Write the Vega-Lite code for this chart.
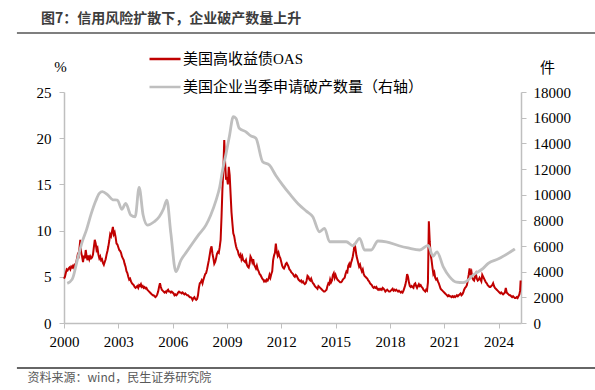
{
"$schema":"https://vega.github.io/schema/vega-lite/v6.json",
"width":457,"height":231,
"autosize":{"type":"none"},
"padding":{"left":64,"top":92,"right":74,"bottom":67},
"background":"white",
"title":{"text":"图7：信用风险扩散下，企业破产数量上升","anchor":"start","frame":"group","font":"Noto Sans CJK SC","fontSize":14,"fontWeight":"bold","color":"#3c3c3c","dx":-23,"offset":6},
"config":{"view":{"stroke":null},"axis":{"labelFont":"Liberation Serif","labelFontSize":15,"labelColor":"#000","domainColor":"#bfbfbf","tickColor":"#bfbfbf","grid":false,"domainWidth":1.5,"tickWidth":1,"tickSize":5}},
"datasets":{
"oas":[
{"t":2000.00,"v":4.8},{"t":2000.05,"v":5.0},{"t":2000.10,"v":5.4},{"t":2000.15,"v":5.8},{"t":2000.20,"v":5.7},{"t":2000.25,"v":5.9},{"t":2000.30,"v":6.0},{"t":2000.35,"v":5.8},{"t":2000.40,"v":6.1},{"t":2000.45,"v":6.0},{"t":2000.50,"v":6.2},{"t":2000.55,"v":6.0},{"t":2000.60,"v":6.3},{"t":2000.65,"v":6.2},{"t":2000.70,"v":6.8},{"t":2000.75,"v":7.3},{"t":2000.80,"v":7.0},{"t":2000.85,"v":8.0},{"t":2000.90,"v":9.0},{"t":2000.95,"v":7.6},
{"t":2001.00,"v":7.2},{"t":2001.05,"v":6.6},{"t":2001.10,"v":7.3},{"t":2001.15,"v":7.0},{"t":2001.20,"v":7.9},{"t":2001.25,"v":7.2},{"t":2001.30,"v":6.8},{"t":2001.35,"v":7.3},{"t":2001.40,"v":6.9},{"t":2001.45,"v":7.2},{"t":2001.50,"v":7.0},{"t":2001.55,"v":7.1},{"t":2001.60,"v":7.4},{"t":2001.65,"v":8.2},{"t":2001.70,"v":9.0},{"t":2001.75,"v":8.6},{"t":2001.80,"v":7.9},{"t":2001.85,"v":8.1},{"t":2001.90,"v":7.4},{"t":2001.95,"v":7.0},
{"t":2002.00,"v":7.2},{"t":2002.05,"v":6.8},{"t":2002.10,"v":6.9},{"t":2002.15,"v":6.5},{"t":2002.20,"v":6.3},{"t":2002.25,"v":6.6},{"t":2002.30,"v":6.9},{"t":2002.35,"v":7.4},{"t":2002.40,"v":7.8},{"t":2002.45,"v":8.3},{"t":2002.50,"v":8.9},{"t":2002.55,"v":9.6},{"t":2002.60,"v":9.4},{"t":2002.65,"v":9.9},{"t":2002.70,"v":10.4},{"t":2002.75,"v":9.6},{"t":2002.80,"v":9.8},{"t":2002.85,"v":9.3},{"t":2002.90,"v":8.6},{"t":2002.95,"v":8.5},
{"t":2003.00,"v":8.2},{"t":2003.05,"v":7.9},{"t":2003.10,"v":7.8},{"t":2003.15,"v":7.6},{"t":2003.20,"v":7.2},{"t":2003.25,"v":7.0},{"t":2003.30,"v":6.8},{"t":2003.35,"v":6.4},{"t":2003.40,"v":6.1},{"t":2003.45,"v":5.6},{"t":2003.50,"v":5.4},{"t":2003.55,"v":5.0},{"t":2003.60,"v":4.7},{"t":2003.65,"v":4.8},{"t":2003.70,"v":4.5},{"t":2003.75,"v":4.3},{"t":2003.80,"v":4.2},{"t":2003.85,"v":4.1},{"t":2003.90,"v":3.9},{"t":2003.95,"v":3.8},
{"t":2004.00,"v":3.9},{"t":2004.05,"v":4.0},{"t":2004.10,"v":3.8},{"t":2004.15,"v":4.1},{"t":2004.20,"v":4.0},{"t":2004.25,"v":4.2},{"t":2004.30,"v":3.9},{"t":2004.35,"v":4.0},{"t":2004.40,"v":3.8},{"t":2004.45,"v":3.9},{"t":2004.50,"v":3.75},{"t":2004.55,"v":3.8},{"t":2004.60,"v":3.6},{"t":2004.65,"v":3.5},{"t":2004.70,"v":3.4},{"t":2004.75,"v":3.3},{"t":2004.80,"v":3.2},{"t":2004.85,"v":3.1},{"t":2004.90,"v":3.0},{"t":2004.95,"v":3.0},
{"t":2005.00,"v":2.9},{"t":2005.05,"v":2.8},{"t":2005.10,"v":2.9},{"t":2005.15,"v":3.1},{"t":2005.20,"v":3.4},{"t":2005.25,"v":3.9},{"t":2005.30,"v":4.3},{"t":2005.35,"v":3.9},{"t":2005.40,"v":3.6},{"t":2005.45,"v":3.5},{"t":2005.50,"v":3.4},{"t":2005.55,"v":3.3},{"t":2005.60,"v":3.4},{"t":2005.65,"v":3.3},{"t":2005.70,"v":3.5},{"t":2005.75,"v":3.6},{"t":2005.80,"v":3.4},{"t":2005.85,"v":3.4},{"t":2005.90,"v":3.3},{"t":2005.95,"v":3.4},
{"t":2006.00,"v":3.3},{"t":2006.05,"v":3.2},{"t":2006.10,"v":3.0},{"t":2006.15,"v":3.1},{"t":2006.20,"v":3.0},{"t":2006.25,"v":3.1},{"t":2006.30,"v":3.3},{"t":2006.35,"v":3.4},{"t":2006.40,"v":3.3},{"t":2006.45,"v":3.3},{"t":2006.50,"v":3.2},{"t":2006.55,"v":3.3},{"t":2006.60,"v":3.2},{"t":2006.65,"v":3.1},{"t":2006.70,"v":3.2},{"t":2006.75,"v":3.1},{"t":2006.80,"v":3.0},{"t":2006.85,"v":3.0},{"t":2006.90,"v":2.9},{"t":2006.95,"v":2.8},
{"t":2007.00,"v":2.8},{"t":2007.05,"v":2.7},{"t":2007.10,"v":2.5},{"t":2007.15,"v":2.7},{"t":2007.20,"v":2.8},{"t":2007.25,"v":2.6},{"t":2007.30,"v":2.5},{"t":2007.35,"v":2.6},{"t":2007.40,"v":3.0},{"t":2007.45,"v":3.8},{"t":2007.50,"v":4.3},{"t":2007.55,"v":4.4},{"t":2007.60,"v":4.6},{"t":2007.65,"v":4.3},{"t":2007.70,"v":4.7},{"t":2007.75,"v":5.0},{"t":2007.80,"v":5.3},{"t":2007.85,"v":5.4},{"t":2007.90,"v":5.8},{"t":2007.95,"v":6.3},
{"t":2008.00,"v":6.8},{"t":2008.05,"v":7.4},{"t":2008.10,"v":8.0},{"t":2008.15,"v":8.3},{"t":2008.20,"v":7.5},{"t":2008.25,"v":7.0},{"t":2008.30,"v":6.4},{"t":2008.35,"v":6.6},{"t":2008.40,"v":7.0},{"t":2008.45,"v":7.5},{"t":2008.50,"v":7.7},{"t":2008.55,"v":7.6},{"t":2008.60,"v":8.2},{"t":2008.65,"v":9.0},{"t":2008.70,"v":11.5},{"t":2008.75,"v":14.5},{"t":2008.80,"v":16.5},{"t":2008.85,"v":19.8},{"t":2008.90,"v":17.3},{"t":2008.95,"v":15.5},
{"t":2009.00,"v":15.8},{"t":2009.05,"v":15.0},{"t":2009.10,"v":16.9},{"t":2009.15,"v":16.0},{"t":2009.20,"v":14.0},{"t":2009.25,"v":12.0},{"t":2009.30,"v":10.8},{"t":2009.35,"v":9.7},{"t":2009.40,"v":9.4},{"t":2009.45,"v":8.8},{"t":2009.50,"v":8.3},{"t":2009.55,"v":8.0},{"t":2009.60,"v":7.8},{"t":2009.65,"v":7.4},{"t":2009.70,"v":7.2},{"t":2009.75,"v":7.4},{"t":2009.80,"v":6.9},{"t":2009.85,"v":7.2},{"t":2009.90,"v":6.8},{"t":2009.95,"v":6.7},
{"t":2010.00,"v":6.6},{"t":2010.05,"v":6.8},{"t":2010.10,"v":6.3},{"t":2010.15,"v":6.1},{"t":2010.20,"v":6.0},{"t":2010.25,"v":6.4},{"t":2010.30,"v":7.2},{"t":2010.35,"v":7.0},{"t":2010.40,"v":6.6},{"t":2010.45,"v":6.9},{"t":2010.50,"v":6.3},{"t":2010.55,"v":6.1},{"t":2010.60,"v":5.9},{"t":2010.65,"v":6.2},{"t":2010.70,"v":5.8},{"t":2010.75,"v":5.6},{"t":2010.80,"v":5.3},{"t":2010.85,"v":5.2},{"t":2010.90,"v":5.0},{"t":2010.95,"v":4.8},
{"t":2011.00,"v":4.7},{"t":2011.05,"v":4.5},{"t":2011.10,"v":4.6},{"t":2011.15,"v":4.5},{"t":2011.20,"v":4.7},{"t":2011.25,"v":4.6},{"t":2011.30,"v":4.8},{"t":2011.35,"v":5.2},{"t":2011.40,"v":4.9},{"t":2011.45,"v":5.3},{"t":2011.50,"v":5.6},{"t":2011.55,"v":6.8},{"t":2011.60,"v":7.3},{"t":2011.65,"v":7.6},{"t":2011.70,"v":8.6},{"t":2011.75,"v":7.7},{"t":2011.80,"v":7.3},{"t":2011.85,"v":7.6},{"t":2011.90,"v":7.2},{"t":2011.95,"v":7.0},
{"t":2012.00,"v":6.6},{"t":2012.05,"v":6.2},{"t":2012.10,"v":6.0},{"t":2012.15,"v":5.9},{"t":2012.20,"v":6.1},{"t":2012.25,"v":6.4},{"t":2012.30,"v":6.5},{"t":2012.35,"v":6.3},{"t":2012.40,"v":6.1},{"t":2012.45,"v":5.8},{"t":2012.50,"v":5.7},{"t":2012.55,"v":5.5},{"t":2012.60,"v":5.4},{"t":2012.65,"v":5.3},{"t":2012.70,"v":5.1},{"t":2012.75,"v":5.0},{"t":2012.80,"v":5.2},{"t":2012.85,"v":5.1},{"t":2012.90,"v":4.9},{"t":2012.95,"v":4.7},
{"t":2013.00,"v":4.6},{"t":2013.05,"v":4.5},{"t":2013.10,"v":4.6},{"t":2013.15,"v":4.4},{"t":2013.20,"v":4.5},{"t":2013.25,"v":4.3},{"t":2013.30,"v":4.2},{"t":2013.35,"v":4.3},{"t":2013.40,"v":4.6},{"t":2013.45,"v":5.1},{"t":2013.50,"v":5.0},{"t":2013.55,"v":4.7},{"t":2013.60,"v":4.6},{"t":2013.65,"v":4.8},{"t":2013.70,"v":4.5},{"t":2013.75,"v":4.3},{"t":2013.80,"v":4.2},{"t":2013.85,"v":4.0},{"t":2013.90,"v":3.9},{"t":2013.95,"v":3.8},
{"t":2014.00,"v":3.7},{"t":2014.05,"v":4.0},{"t":2014.10,"v":3.9},{"t":2014.15,"v":3.8},{"t":2014.20,"v":3.7},{"t":2014.25,"v":3.6},{"t":2014.30,"v":3.5},{"t":2014.35,"v":3.4},{"t":2014.40,"v":3.4},{"t":2014.45,"v":3.5},{"t":2014.50,"v":3.6},{"t":2014.55,"v":4.0},{"t":2014.60,"v":4.3},{"t":2014.65,"v":4.2},{"t":2014.70,"v":4.7},{"t":2014.75,"v":4.4},{"t":2014.80,"v":4.6},{"t":2014.85,"v":5.2},{"t":2014.90,"v":5.4},{"t":2014.95,"v":4.9},
{"t":2015.00,"v":5.2},{"t":2015.05,"v":4.9},{"t":2015.10,"v":4.7},{"t":2015.15,"v":4.6},{"t":2015.20,"v":4.5},{"t":2015.25,"v":4.4},{"t":2015.30,"v":4.4},{"t":2015.35,"v":4.5},{"t":2015.40,"v":4.7},{"t":2015.45,"v":4.8},{"t":2015.50,"v":4.9},{"t":2015.55,"v":5.3},{"t":2015.60,"v":5.6},{"t":2015.65,"v":5.5},{"t":2015.70,"v":6.2},{"t":2015.75,"v":6.4},{"t":2015.80,"v":6.0},{"t":2015.85,"v":6.5},{"t":2015.90,"v":6.8},{"t":2015.95,"v":7.2},
{"t":2016.00,"v":7.8},{"t":2016.05,"v":8.6},{"t":2016.10,"v":8.0},{"t":2016.15,"v":7.3},{"t":2016.20,"v":6.9},{"t":2016.25,"v":6.5},{"t":2016.30,"v":6.1},{"t":2016.35,"v":6.3},{"t":2016.40,"v":5.9},{"t":2016.45,"v":5.6},{"t":2016.50,"v":5.8},{"t":2016.55,"v":5.3},{"t":2016.60,"v":5.1},{"t":2016.65,"v":5.0},{"t":2016.70,"v":4.9},{"t":2016.75,"v":4.8},{"t":2016.80,"v":4.6},{"t":2016.85,"v":4.5},{"t":2016.90,"v":4.3},{"t":2016.95,"v":4.2},
{"t":2017.00,"v":4.1},{"t":2017.05,"v":3.9},{"t":2017.10,"v":3.8},{"t":2017.15,"v":3.9},{"t":2017.20,"v":3.8},{"t":2017.25,"v":3.9},{"t":2017.30,"v":3.7},{"t":2017.35,"v":3.6},{"t":2017.40,"v":3.7},{"t":2017.45,"v":3.6},{"t":2017.50,"v":3.7},{"t":2017.55,"v":3.6},{"t":2017.60,"v":3.8},{"t":2017.65,"v":3.7},{"t":2017.70,"v":3.6},{"t":2017.75,"v":3.4},{"t":2017.80,"v":3.5},{"t":2017.85,"v":3.6},{"t":2017.90,"v":3.5},{"t":2017.95,"v":3.4},
{"t":2018.00,"v":3.4},{"t":2018.05,"v":3.5},{"t":2018.10,"v":3.6},{"t":2018.15,"v":3.7},{"t":2018.20,"v":3.5},{"t":2018.25,"v":3.6},{"t":2018.30,"v":3.5},{"t":2018.35,"v":3.6},{"t":2018.40,"v":3.5},{"t":2018.45,"v":3.4},{"t":2018.50,"v":3.5},{"t":2018.55,"v":3.4},{"t":2018.60,"v":3.3},{"t":2018.65,"v":3.4},{"t":2018.70,"v":3.3},{"t":2018.75,"v":3.5},{"t":2018.80,"v":3.8},{"t":2018.85,"v":4.1},{"t":2018.90,"v":4.6},{"t":2018.95,"v":5.3},
{"t":2019.00,"v":5.0},{"t":2019.05,"v":4.4},{"t":2019.10,"v":4.0},{"t":2019.15,"v":3.9},{"t":2019.20,"v":4.0},{"t":2019.25,"v":3.9},{"t":2019.30,"v":3.8},{"t":2019.35,"v":4.2},{"t":2019.40,"v":4.3},{"t":2019.45,"v":4.0},{"t":2019.50,"v":3.8},{"t":2019.55,"v":4.0},{"t":2019.60,"v":4.2},{"t":2019.65,"v":4.0},{"t":2019.70,"v":4.1},{"t":2019.75,"v":3.9},{"t":2019.80,"v":3.8},{"t":2019.85,"v":3.6},{"t":2019.90,"v":3.5},{"t":2019.95,"v":3.4},
{"t":2020.00,"v":3.6},{"t":2020.05,"v":3.5},{"t":2020.10,"v":4.4},{"t":2020.15,"v":11.0},{"t":2020.20,"v":8.8},{"t":2020.25,"v":7.4},{"t":2020.30,"v":6.8},{"t":2020.35,"v":6.0},{"t":2020.40,"v":5.3},{"t":2020.45,"v":5.5},{"t":2020.50,"v":4.9},{"t":2020.55,"v":4.7},{"t":2020.60,"v":4.8},{"t":2020.65,"v":4.5},{"t":2020.70,"v":4.3},{"t":2020.75,"v":4.0},{"t":2020.80,"v":3.7},{"t":2020.85,"v":3.6},{"t":2020.90,"v":3.5},{"t":2020.95,"v":3.4},
{"t":2021.00,"v":3.3},{"t":2021.05,"v":3.2},{"t":2021.10,"v":3.1},{"t":2021.15,"v":3.0},{"t":2021.20,"v":2.9},{"t":2021.25,"v":3.0},{"t":2021.30,"v":2.9},{"t":2021.35,"v":2.9},{"t":2021.40,"v":2.8},{"t":2021.45,"v":2.9},{"t":2021.50,"v":2.8},{"t":2021.55,"v":2.9},{"t":2021.60,"v":2.8},{"t":2021.65,"v":2.9},{"t":2021.70,"v":3.0},{"t":2021.75,"v":2.9},{"t":2021.80,"v":3.0},{"t":2021.85,"v":3.1},{"t":2021.90,"v":3.2},{"t":2021.95,"v":3.0},
{"t":2022.00,"v":3.1},{"t":2022.05,"v":3.3},{"t":2022.10,"v":3.6},{"t":2022.15,"v":3.8},{"t":2022.20,"v":3.9},{"t":2022.25,"v":4.1},{"t":2022.30,"v":4.6},{"t":2022.35,"v":5.2},{"t":2022.40,"v":5.9},{"t":2022.45,"v":5.4},{"t":2022.50,"v":5.6},{"t":2022.55,"v":4.9},{"t":2022.60,"v":4.7},{"t":2022.65,"v":4.6},{"t":2022.70,"v":5.0},{"t":2022.75,"v":5.3},{"t":2022.80,"v":4.8},{"t":2022.85,"v":4.6},{"t":2022.90,"v":4.7},{"t":2022.95,"v":4.9},
{"t":2023.00,"v":4.7},{"t":2023.05,"v":4.5},{"t":2023.10,"v":5.2},{"t":2023.15,"v":5.0},{"t":2023.20,"v":4.8},{"t":2023.25,"v":4.6},{"t":2023.30,"v":4.4},{"t":2023.35,"v":4.3},{"t":2023.40,"v":4.1},{"t":2023.45,"v":4.0},{"t":2023.50,"v":3.9},{"t":2023.55,"v":3.9},{"t":2023.60,"v":4.0},{"t":2023.65,"v":4.1},{"t":2023.70,"v":4.3},{"t":2023.75,"v":4.0},{"t":2023.80,"v":3.8},{"t":2023.85,"v":3.7},{"t":2023.90,"v":3.6},{"t":2023.95,"v":3.5},
{"t":2024.00,"v":3.4},{"t":2024.05,"v":3.3},{"t":2024.10,"v":3.2},{"t":2024.15,"v":3.3},{"t":2024.20,"v":3.2},{"t":2024.25,"v":3.1},{"t":2024.30,"v":3.2},{"t":2024.35,"v":3.3},{"t":2024.40,"v":3.8},{"t":2024.45,"v":3.3},{"t":2024.50,"v":3.2},{"t":2024.55,"v":3.1},{"t":2024.60,"v":3.0},{"t":2024.65,"v":3.0},{"t":2024.70,"v":2.9},{"t":2024.75,"v":2.8},{"t":2024.80,"v":2.9},{"t":2024.85,"v":2.8},{"t":2024.90,"v":2.7},{"t":2024.95,"v":2.7},
{"t":2025.00,"v":2.8},{"t":2025.05,"v":2.7},{"t":2025.10,"v":2.9},{"t":2025.15,"v":3.1},{"t":2025.19,"v":3.5},{"t":2025.22,"v":4.6}
],
"bk":[
{"t":2000.18,"v":3090},{"t":2000.45,"v":3400},{"t":2000.75,"v":5000},{"t":2001.0,"v":6300},{"t":2001.25,"v":7300},{"t":2001.5,"v":8500},{"t":2001.75,"v":9500},{"t":2001.95,"v":10100},{"t":2002.12,"v":10230},{"t":2002.4,"v":10000},{"t":2002.7,"v":9600},{"t":2002.95,"v":9580},
{"t":2003.19,"v":8860},{"t":2003.41,"v":9320},{"t":2003.69,"v":8410},{"t":2003.93,"v":8280},{"t":2004.15,"v":10570},{"t":2004.37,"v":8410},{"t":2004.61,"v":7630},{"t":2004.98,"v":7890},{"t":2005.26,"v":8280},{"t":2005.5,"v":8900},{"t":2005.68,"v":9580},{"t":2005.9,"v":7000},
{"t":2006.18,"v":4000},{"t":2006.46,"v":4900},{"t":2006.75,"v":5500},{"t":2007.1,"v":6210},{"t":2007.45,"v":6900},{"t":2007.84,"v":7630},{"t":2008.1,"v":8400},{"t":2008.4,"v":9580},{"t":2008.6,"v":10600},{"t":2008.76,"v":11920},{"t":2008.95,"v":13200},{"t":2009.13,"v":14510},
{"t":2009.35,"v":16070},{"t":2009.5,"v":15950},{"t":2009.68,"v":15170},{"t":2010.05,"v":14900},{"t":2010.3,"v":14600},{"t":2010.6,"v":14390},{"t":2010.97,"v":12570},{"t":2011.34,"v":12310},{"t":2011.7,"v":11500},{"t":2012.08,"v":10750},{"t":2012.5,"v":10000},{"t":2013.0,"v":9190},
{"t":2013.4,"v":8700},{"t":2013.74,"v":8280},{"t":2014.11,"v":7110},{"t":2014.39,"v":7380},{"t":2014.67,"v":6330},{"t":2015.0,"v":6330},{"t":2015.3,"v":6330},{"t":2015.59,"v":6330},{"t":2015.96,"v":6020},{"t":2016.33,"v":6600},{"t":2016.6,"v":5690},{"t":2016.97,"v":5690},
{"t":2017.34,"v":6390},{"t":2017.8,"v":6330},{"t":2018.5,"v":6020},{"t":2019.0,"v":5850},{"t":2019.65,"v":5690},{"t":2020.11,"v":6050},{"t":2020.38,"v":5200},{"t":2020.6,"v":5550},{"t":2020.94,"v":4400},{"t":2021.3,"v":3600},{"t":2021.68,"v":3180},{"t":2022.04,"v":3140},
{"t":2022.2,"v":3220},{"t":2022.6,"v":3740},{"t":2023.15,"v":4260},{"t":2023.43,"v":4650},{"t":2024.0,"v":5000},{"t":2024.9,"v":5770}
]
},
"layer":[
{"data":{"name":"oas"},"mark":{"type":"line","strokeWidth":2},
"encoding":{
"x":{"field":"t","type":"quantitative","scale":{"domain":[2000,2025.24],"nice":false,"zero":false},
"axis":{"values":[2000,2003,2006,2009,2012,2015,2018,2021,2024],"format":"d","labelFlush":false,"labelOverlap":false,"labelPadding":6,
"title":"资料来源：wind，民生证券研究院","titleX":-37,"titleY":54,"titleAlign":"left","titleAnchor":"start","titleBaseline":"middle","titleFont":"Noto Sans CJK SC","titleFontSize":12,"titleFontWeight":"normal","titleColor":"#595959"}},
"y":{"field":"v","type":"quantitative","scale":{"domain":[0,25],"nice":false},
"axis":{"values":[0,5,10,15,20,25],"labelPadding":8,"title":"%","titleAngle":0,"titleX":-4,"titleY":-26,"titleAlign":"center","titleBaseline":"middle","titleFont":"Liberation Serif","titleFontSize":15,"titleFontWeight":"normal","titleColor":"#000"}},
"color":{"datum":"美国高收益债OAS","type":"nominal","scale":{"domain":["美国高收益债OAS","美国企业当季申请破产数量（右轴）"],"range":["#c00000","#bfbfbf"]},
"legend":{"title":null,"orient":"none","legendX":84,"legendY":-50,"direction":"vertical","symbolType":"stroke","symbolSize":961,"symbolStrokeWidth":2.5,"labelFont":"Liberation Serif, Noto Sans CJK SC","labelFontSize":15,"labelColor":"#000","rowPadding":3,"labelOffset":1,"labelLimit":400,"padding":0}}
}},
{"data":{"name":"bk"},"mark":{"type":"line","strokeWidth":2.8,"interpolate":"monotone"},
"encoding":{
"x":{"field":"t","type":"quantitative","scale":{"domain":[2000,2025.24],"nice":false,"zero":false}},
"y":{"field":"v","type":"quantitative","scale":{"domain":[0,18000],"nice":false},
"axis":{"orient":"right","values":[0,2000,4000,6000,8000,10000,12000,14000,16000,18000],"format":"d","labelPadding":7,"title":"件","titleAngle":0,"titleX":26,"titleY":-25,"titleAlign":"center","titleBaseline":"middle","titleFont":"Liberation Serif, Noto Sans CJK SC","titleFontSize":15,"titleFontWeight":"normal","titleColor":"#000"}},
"color":{"datum":"美国企业当季申请破产数量（右轴）","type":"nominal"}
}},
{"data":{"values":[{}]},"mark":{"type":"rule","color":"#7f7f7f","strokeWidth":2,"clip":false},
"encoding":{"x":{"datum":1997.4,"type":"quantitative","scale":{"domain":[2000,2025.24],"nice":false,"zero":false}},"x2":{"datum":2029.35},"y":{"datum":31.39,"type":"quantitative","scale":{"domain":[0,25],"nice":false},"axis":null}}},
{"data":{"values":[{}]},"mark":{"type":"rule","color":"#666666","strokeWidth":2,"clip":false},
"encoding":{"x":{"datum":1997.4,"type":"quantitative","scale":{"domain":[2000,2025.24],"nice":false,"zero":false}},"x2":{"datum":2029.35},"y":{"datum":-4.87,"type":"quantitative","scale":{"domain":[0,25],"nice":false},"axis":null}}}
],
"resolve":{"scale":{"y":"independent"}}
}
